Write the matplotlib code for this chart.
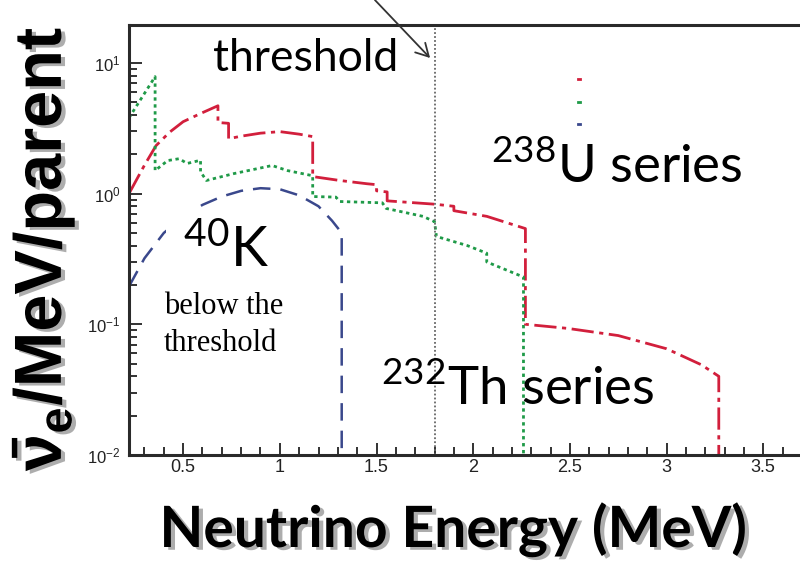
"""Antineutrino spectra of 238U, 232Th and 40K on a log scale, with the
inverse-beta threshold marked. Writes out.png."""

import matplotlib

matplotlib.use("Agg")
import matplotlib.patheffects as pe
import matplotlib.pyplot as plt
from matplotlib.lines import Line2D
from matplotlib.patches import FancyArrowPatch, Rectangle
from matplotlib.ticker import FormatStrFormatter, LogLocator, MultipleLocator

plt.rcParams.update(
    {
        "font.family": "Liberation Sans",
        "mathtext.fontset": "custom",
        "mathtext.rm": "Liberation Sans",
        "mathtext.it": "Liberation Sans:italic",
        "mathtext.bf": "Liberation Sans:bold",
        "axes.unicode_minus": False,
    }
)

# --- data --------------------------------------------------------------------
U238_E = [0.22, 0.30, 0.36, 0.43, 0.50, 0.59, 0.68, 0.68, 0.735, 0.735, 0.80,
          0.90, 1.00, 1.10, 1.17, 1.17, 1.31, 1.45, 1.50, 1.50, 1.555, 1.555,
          1.80, 1.90, 1.90, 2.07, 2.27, 2.27, 2.49, 2.75, 3.00, 3.18, 3.27, 3.27]
U238_N = [1.00, 1.65, 2.33, 2.95, 3.55, 4.10, 4.70, 3.50, 3.45, 2.63, 2.75,
          2.90, 2.98, 2.85, 2.73, 1.35, 1.26, 1.19, 1.17, 1.05, 1.03, 0.88,
          0.83, 0.80, 0.74, 0.67, 0.54, 0.10, 0.093, 0.082, 0.065, 0.049, 0.040, 0.01]

TH232_E = [0.22, 0.355, 0.355, 0.42, 0.48, 0.52, 0.59, 0.59, 0.62, 0.76, 0.96,
           1.04, 1.17, 1.17, 1.29, 1.31, 1.53, 1.55, 1.74, 1.80, 1.81, 1.97,
           2.07, 2.07, 2.26, 2.26]
TH232_N = [3.80, 7.85, 1.50, 1.79, 1.85, 1.70, 1.80, 1.47, 1.26, 1.42, 1.64,
           1.50, 1.37, 0.95, 0.94, 0.87, 0.85, 0.77, 0.67, 0.61, 0.47, 0.40,
           0.35, 0.30, 0.23, 0.01]

K40_E = [0.22, 0.30, 0.40, 0.50, 0.60, 0.70, 0.80, 0.90, 1.00, 1.10, 1.20,
         1.27, 1.32, 1.32]
K40_N = [0.195, 0.32, 0.50, 0.66, 0.82, 0.95, 1.05, 1.10, 1.08, 0.97, 0.80,
         0.62, 0.50, 0.01]

THRESHOLD_MEV = 1.8
XLIM = (0.22, 3.69)
YLIM = (0.01, 19.5)

RED, GREEN, BLUE = "#d21f3c", "#1f9a48", "#3a488c"
W, H = 800, 567


def fx(px):
    return px / W


def fy(py):
    return 1 - py / H


def main() -> None:
    fig = plt.figure(figsize=(W / 100, H / 100), dpi=100)
    ax = fig.add_axes([fx(129), fy(455), fx(800 - 129), (455 - 25) / H])

    ax.plot(U238_E, U238_N, color=RED, lw=2.0, ls=(0, (8, 2, 1.5, 2)))
    ax.plot(TH232_E, TH232_N, color=GREEN, lw=2.0, ls=(0, (1.2, 1.3)))
    ax.plot(K40_E, K40_N, color=BLUE, lw=1.8, ls=(0, (7, 4)))
    ax.axvline(THRESHOLD_MEV, color="#666666", lw=1.3, ls=(0, (1, 1.2)))

    ax.set_yscale("log")
    ax.set_xlim(*XLIM)
    ax.set_ylim(*YLIM)
    ax.xaxis.set_major_locator(MultipleLocator(0.5))
    ax.xaxis.set_minor_locator(MultipleLocator(0.1))
    ax.xaxis.set_major_formatter(FormatStrFormatter("%g"))
    ax.yaxis.set_major_locator(LogLocator(base=10))
    ax.yaxis.set_minor_locator(LogLocator(base=10, subs=range(2, 10)))
    ax.tick_params(which="both", direction="in", width=1.3, color="#222222")
    ax.tick_params(which="major", length=9)
    ax.tick_params(which="minor", length=5.5)
    ax.tick_params(axis="x", labelsize=13, pad=3, labelcolor="#222222")
    ax.tick_params(axis="y", labelsize=12, pad=6, labelcolor="#222222")
    ax.tick_params(which="both", right=False, top=False)
    for side in ("left", "bottom", "top"):
        ax.spines[side].set_linewidth(2.2)
        ax.spines[side].set_color("#2a2a2a")
    ax.spines["right"].set_visible(False)

    # leftover legend markers of the original figure
    ax.legend(
        [Line2D([], [], color=c, lw=2) for c in (RED, GREEN, BLUE)],
        ["", "", ""],
        loc="upper left",
        bbox_to_anchor=(fx(570), fy(65)),
        bbox_transform=fig.transFigure,
        handlelength=0.12,
        handletextpad=0,
        borderpad=0,
        labelspacing=0.45,
        frameon=False,
        fontsize=12,
    )

    big = dict(family="Lato", color="black", va="baseline", ha="left")
    fig.text(fx(213), fy(71), "threshold", fontsize=32, **big)
    fig.text(fx(491), fy(183), r"$^{\mathdefault{238}}$U series", fontsize=38, **big)
    fig.text(fx(381), fy(405), r"$^{\mathdefault{232}}$Th series", fontsize=38, **big)
    fig.text(
        fx(183), fy(267), r"$^{\mathdefault{40}}$K", fontsize=40, zorder=3,
        bbox=dict(boxstyle="square,pad=0.3", fc="white", ec="none"), **big,
    )
    fig.text(fx(164), fy(292), "below the\nthreshold", family="Liberation Serif",
             fontsize=22, va="top", ha="left", linespacing=1.35)

    fig.add_artist(
        FancyArrowPatch(
            (373, H + 2), (432, H - 60), transform=None,
            arrowstyle="->,head_length=9,head_width=5", lw=1.3, color="#333333",
        )
    )

    shadow = [pe.withSimplePatchShadow(offset=(3, -2), shadow_rgbFace="#777777",
                                       alpha=0.6)]
    fig.text(fx(44), fy(27), r"$\mathbf{\bar{\nu}_{e}}$/MeV/parent", rotation=90,
             fontsize=48, fontweight="bold", ha="center", va="top", zorder=4,
             path_effects=shadow)
    fig.add_artist(Rectangle((0, 0), 1, fy(480), transform=fig.transFigure,
                             fc="white", ec="none", zorder=5))
    fig.text(fx(454), fy(547), "Neutrino Energy (MeV)", family="Lato",
             fontweight="bold", fontsize=41, ha="center", va="baseline",
             zorder=6, path_effects=shadow)

    fig.savefig("out.png", dpi=100)


if __name__ == "__main__":
    main()
